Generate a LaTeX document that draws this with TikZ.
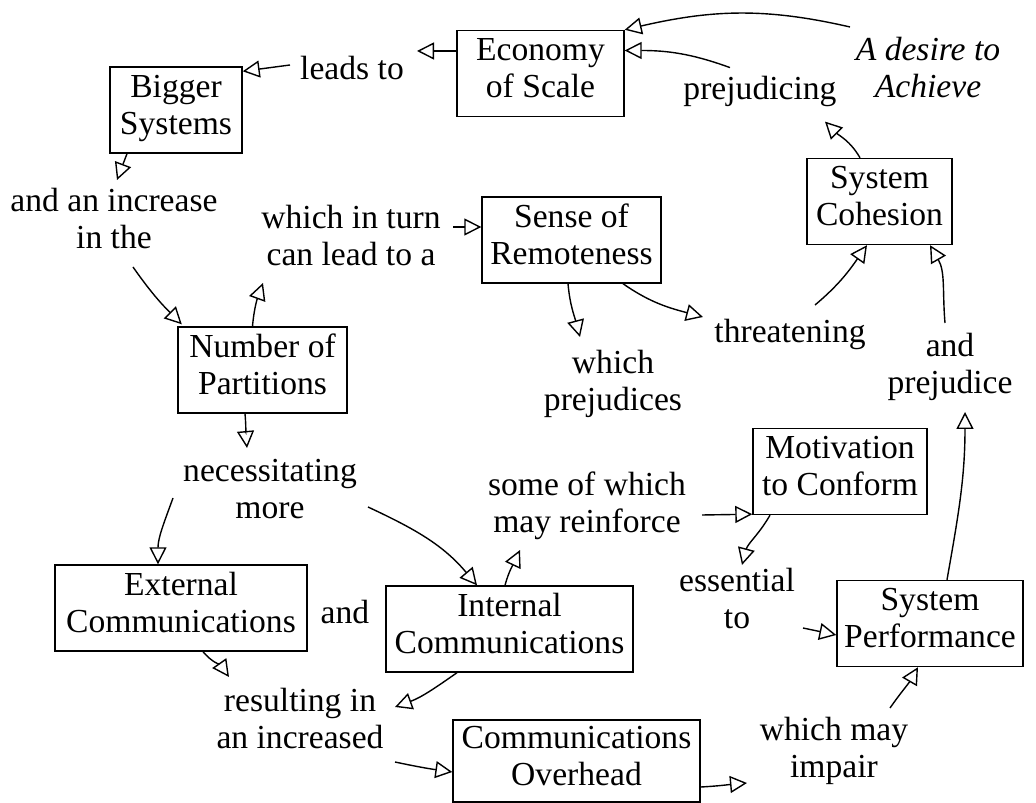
\documentclass[tikz,border=0pt]{standalone}
\usepackage{fontspec}
\setmainfont{Liberation Serif}
\usetikzlibrary{arrows.meta}

\begin{document}
\begin{tikzpicture}[x=1pt, y=1pt,
  font=\fontsize{33.6}{37}\selectfont,
  box/.style={draw, line width=1.4pt, minimum height=86pt, align=center, inner sep=0pt,
    execute at begin node=\strut, execute at end node=\strut},
  lbl/.style={align=center, inner sep=2pt,
    execute at begin node=\strut, execute at end node=\strut},
  flow/.style={-{Triangle[open, length=17pt, width=17pt]}, line width=1.4pt}]
  \useasboundingbox (0,0) rectangle (1036,803);

  % the boxed factors
  \node[box, minimum width=132pt] (big) at (176,693) {Bigger\\Systems};
  \node[box, minimum width=167pt] (eco) at (540.5,729.5) {Economy\\of Scale};
  \node[box, minimum width=179pt] (sense) at (571.5,563) {Sense of\\Remoteness};
  \node[box, minimum width=145pt] (coh) at (879.5,601.5) {System\\Cohesion};
  \node[box, minimum width=169pt] (num) at (262.5,433) {Number of\\Partitions};
  \node[box, minimum width=174pt] (mot) at (840,331.5) {Motivation\\to Conform};
  \node[box, minimum width=252pt] (ext) at (181,195) {External\\Communications};
  \node[box, minimum width=247pt] (int) at (509.5,174) {Internal\\Communications};
  \node[box, minimum width=186pt] (perf) at (930,179.5) {System\\Performance};
  \node[box, minimum width=247pt, minimum height=82pt] (ovh) at (576.5,42) {Communications\\Overhead};

  % the linking phrases
  \node[lbl] (lead) at (352,730.4) {leads to};
  \node[lbl] (incr) at (114,579) {and an increase\\in the};
  \node[lbl] (turn) at (351,562) {which in turn\\can lead to a};
  \node[lbl, font=\fontsize{33.6}{37}\selectfont\itshape] (desire) at (928,730) {A desire to\\Achieve};
  \node[lbl] (prejing) at (760,710.4) {prejudicing};
  \node[lbl] (threat) at (790,468) {threatening};
  \node[lbl] (whichp) at (613,417) {which\\prejudices};
  \node[lbl] (andp) at (950,434) {and\\prejudice};
  \node[lbl] (necess) at (270,309) {necessitating\\more};
  \node[lbl] (some) at (587,295) {some of which\\may reinforce};
  \node[lbl] (andword) at (345,187) {and};
  \node[lbl] (essen) at (737,199) {essential\\to};
  \node[lbl] (result) at (300,79) {resulting in\\an increased};
  \node[lbl] (impair) at (834,50) {which may\\impair};

  % upper loop
  \draw[flow] ([yshift=22.5pt]eco.west) -- ([shift={(65,21.6)}]lead.center);
  \draw[flow] ([shift={(-62,7.6)}]lead.center) -- ([yshift=-5pt]big.north east);
  \draw[flow] ([xshift=-49pt]big.south) -- ([shift={(3,44)}]incr.center);
  \draw[flow] ([shift={(19,-43)}]incr.center) to[out=-55, in=135] ([xshift=4.5pt, yshift=2pt]num.north west);
  \draw[flow] ([xshift=-10pt]num.north) to[out=85, in=-110] ([shift={(-88,-42)}]turn.center);
  \draw[flow] ([shift={(102,14)}]turn.center) -- ([yshift=13pt]sense.west);
  \draw[flow] ([xshift=-3.5pt]sense.south) to[out=-85, in=105] ([shift={(-33,49)}]whichp.center);
  \draw[flow] ([xshift=51.5pt]sense.south) to[out=-35, in=165] ([shift={(-87,18)}]threat.center);
  \draw[flow] ([shift={(25,30)}]threat.center) to[out=40, in=-125] ([xshift=-12.5pt]coh.south);
  \draw[flow] ([shift={(-5,46)}]andp.center) to[out=95, in=-60] ([xshift=50.5pt]coh.south);
  \draw[flow] ([xshift=-19.5pt]coh.north) to[out=120, in=-45] ([shift={(65,-29)}]prejing.center);
  \draw[flow] ([shift={(-30,25)}]prejing.center) to[out=160, in=0] ([yshift=23pt]eco.east);
  \draw[flow] ([shift={(-78,46)}]desire.center) to[out=167, in=13] (eco.north east);

  % lower loop
  \draw[flow] ([xshift=-17.5pt]num.south) to[out=-85, in=95] ([shift={(-23,46)}]necess.center);
  \draw[flow] ([shift={(-97,-4)}]necess.center) to[out=-110, in=90] ([xshift=-23pt]ext.north);
  \draw[flow] ([shift={(98,-13)}]necess.center) to[out=-25, in=130] ([xshift=-32.5pt]int.north);
  \draw[flow] ([xshift=-4.5pt]int.north) to[out=75, in=-115] ([shift={(-67,-42)}]some.center);
  \draw[flow] ([shift={(115,-7)}]some.center) -- ([yshift=1pt]mot.south west);
  \draw[flow] ([xshift=-70pt]mot.south) to[out=-120, in=75] ([shift={(5,39)}]essen.center);
  \draw[flow] ([shift={(66,-24)}]essen.center) -- ([yshift=-11.5pt]perf.west);
  \draw[flow] ([xshift=17pt]perf.north) to[out=80, in=-90] ([shift={(15,-43)}]andp.center);
  \draw[flow] ([xshift=22pt]ext.south) to[out=-50, in=125] ([shift={(-71,47)}]result.center);
  \draw[flow] ([xshift=-52.5pt]int.south) to[out=-145, in=20] ([shift={(95,17)}]result.center);
  \draw[flow] ([shift={(95,-38)}]result.center) to[out=-12, in=172] ([yshift=-11pt]ovh.west);
  \draw[flow] ([yshift=-26pt]ovh.east) to[out=3, in=185] ([shift={(-87,-30)}]impair.center);
  \draw[flow] ([shift={(56,45)}]impair.center) to[out=55, in=-120] ([xshift=-12pt]perf.south);
\end{tikzpicture}
\end{document}
